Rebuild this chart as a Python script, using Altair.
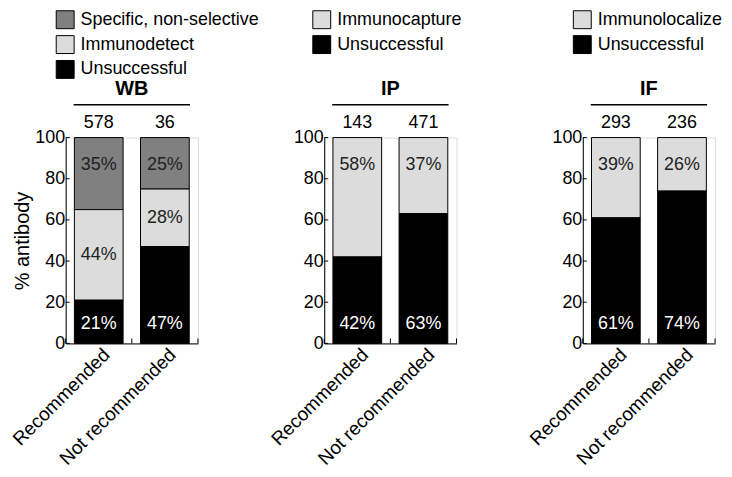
import altair as alt
import pandas as pd

groups = ["Recommended", "Not recommended"]

wb_categories = ["Specific, non-selective", "Immunodetect", "Unsuccessful"]
wb_colors = ["#808080", "#dcdcdc", "#000000"]
wb_rec = [35, 44, 21]
wb_notrec = [25, 28, 47]
wb_counts = [578, 36]

ip_categories = ["Immunocapture", "Unsuccessful"]
ip_colors = ["#dcdcdc", "#000000"]
ip_rec = [58, 42]
ip_notrec = [37, 63]
ip_counts = [143, 471]

if_categories = ["Immunolocalize", "Unsuccessful"]
if_colors = ["#dcdcdc", "#000000"]
if_rec = [39, 61]
if_notrec = [26, 74]
if_counts = [293, 236]

y_ticks = [0, 20, 40, 60, 80, 100]

FONT = "Liberation Sans"
W, H = 133, 207


def panel(name, cats, colors, rec, notrec, counts, legend_x, show_ytitle):
    n = len(cats)
    rows = []
    for g, vals in zip(groups, [rec, notrec]):
        for i, (c, v) in enumerate(zip(cats, vals)):
            role = "bottom" if i == n - 1 else ("top" if i == 0 else "middle")
            rows.append({"group": g, "category": c, "value": v,
                         "order": n - 1 - i, "label": f"{v}%", "role": role})
    df = pd.DataFrame(rows)
    cdf = pd.DataFrame({"group": groups, "count": counts})
    tdf = pd.DataFrame({"panel": [name]})
    ydf = pd.DataFrame({"tick": y_ticks})

    xscale = alt.Scale(domain=groups, paddingInner=0, paddingOuter=0)
    x = alt.X("group:N", sort=groups, scale=xscale,
              axis=alt.Axis(title=None, labelAngle=-45, labelAlign="right",
                            labelBaseline="middle", labelFontSize=19,
                            labelPadding=8, labelOffset=8, ticks=False,
                            domainColor="black", labelColor="black",
                            labelFont=FONT))
    yscale = alt.Scale(domain=[0, 100], nice=False)
    yaxis = alt.Axis(values=y_ticks, grid=False,
                     labelFontSize=18, labelColor="black", labelPadding=1,
                     ticks=False, domainColor="black",
                     titleFontSize=20, titleFontWeight="normal",
                     titleColor="black", titlePadding=2, labelFont=FONT,
                     titleFont=FONT,
                     **({"title": "% antibody"} if show_ytitle else {"title": None}))

    base = alt.Chart(df).transform_stack(
        stack="value", groupby=["group"],
        sort=[alt.SortField("order", order="ascending")],
        as_=["y0", "y1"],
    ).transform_calculate(mid="(datum.y0 + datum.y1) / 2")

    bars = base.mark_bar(size=49, stroke="black", strokeWidth=1).encode(
        x=x,
        y=alt.Y("y0:Q", scale=yscale, axis=yaxis),
        y2="y1:Q",
        color=alt.Color("category:N",
                        scale=alt.Scale(domain=cats, range=colors),
                        legend=alt.Legend(title=None, orient="none",
                                          legendX=legend_x, legendY=-128,
                                          symbolType="square", symbolSize=324,
                                          symbolStrokeColor="black",
                                          symbolStrokeWidth=1,
                                          labelFontSize=18, labelFont=FONT,
                                          labelColor="black",
                                          rowPadding=2, labelOffset=6,
                                          padding=0, labelLimit=400)),
    )

    tcolor = alt.condition(alt.datum.category == "Unsuccessful",
                           alt.value("white"), alt.value("#222222"))
    tprops = dict(fontSize=18, font=FONT, baseline="middle")
    bottom = base.transform_filter(alt.datum.role == "bottom").mark_text(
        dy=-19, **tprops).encode(x=x, y=alt.Y("y0:Q", scale=yscale),
                                  text="label:N", color=tcolor)
    top = base.transform_filter(alt.datum.role == "top").mark_text(
        dy=28, **tprops).encode(x=x, y=alt.Y("y1:Q", scale=yscale),
                                 text="label:N", color=tcolor)
    middle = base.transform_filter(alt.datum.role == "middle").mark_text(
        **tprops).encode(x=x, y=alt.Y("mid:Q", scale=yscale),
                         text="label:N", color=tcolor)

    cnt = alt.Chart(cdf).mark_text(dy=-15, **tprops, color="black").encode(
        x=x, y=alt.datum(100), text="count:Q")

    # inward ticks on the y axis
    yt = alt.Chart(ydf).mark_rule(color="black", strokeWidth=1).encode(
        y=alt.Y("tick:Q", scale=yscale), x=alt.value(0), x2=alt.value(4))
    # inward ticks at the band boundaries of the x axis
    xt_start = alt.Chart(cdf).mark_rule(color="black", strokeWidth=1).encode(
        x=alt.X("group:N", scale=xscale, bandPosition=0),
        y=alt.value(H), y2=alt.value(H - 5))
    xt_end = alt.Chart(cdf.iloc[[-1]]).mark_rule(color="black", strokeWidth=1).encode(
        x=alt.X("group:N", scale=xscale, bandPosition=1),
        y=alt.value(H), y2=alt.value(H - 5))

    rule = alt.Chart(tdf).mark_rule(color="black", strokeWidth=1.5).encode(
        x=alt.value(8), x2=alt.value(125), y=alt.value(-33))
    title = alt.Chart(tdf).mark_text(fontSize=20, fontWeight="bold", font=FONT,
                                     baseline="middle", color="black").encode(
        x=alt.value(W / 2), y=alt.value(-49), text="panel:N")

    return alt.layer(bars, bottom, middle, top, cnt, yt, xt_start, xt_end,
                     rule, title).properties(width=W, height=H)


p1 = panel("WB", wb_categories, wb_colors, wb_rec, wb_notrec, wb_counts, -10, True)
p2 = panel("IP", ip_categories, ip_colors, ip_rec, ip_notrec, ip_counts, -12, False)
p3 = panel("IF", if_categories, if_colors, if_rec, if_notrec, if_counts, -10, False)

chart = alt.hconcat(p1, p2, p3, spacing=127, bounds="flush").resolve_scale(
    color="independent", x="independent", y="independent"
).resolve_legend(color="independent").configure_view(stroke=None).configure(
    font=FONT, padding=0, background="white")

chart.save("out.html", embed_options={"renderer": "svg", "actions": False})
